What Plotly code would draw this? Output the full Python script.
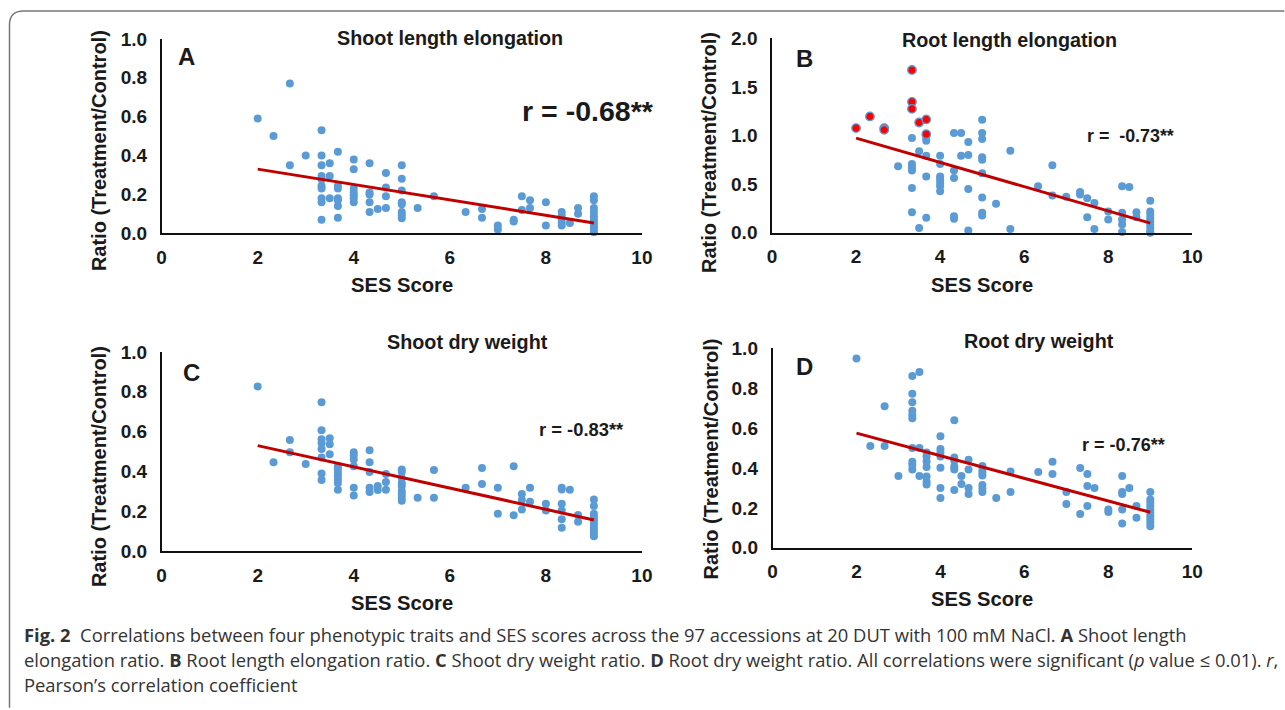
import plotly.graph_objects as go

# Empirical mapping between figure pixels and photographed pixels
# (photo = S * figure + O); positions below are given in photo pixels.
SX, OX = 0.987, 5.5
SY, OY = 0.974, 9.0
W, H = 1297, 721
FS = 1.02  # font compensation for the photo scaling

# ---------------- data ----------------
# Panel A: Shoot length elongation
ses_levels_A = [2.0, 2.33, 2.67, 3.0, 3.33, 3.5, 3.67, 4.0, 4.33, 4.5, 4.67, 5.0, 5.33, 5.67,
                6.33, 6.67, 7.0, 7.33, 7.5, 7.67, 8.0, 8.33, 8.5, 8.67, 9.0]
ratio_groups_A = [
    [0.59], [0.50], [0.77, 0.35], [0.40],
    [0.53, 0.40, 0.35, 0.295, 0.278, 0.244, 0.23, 0.18, 0.16, 0.07],
    [0.36, 0.295, 0.18],
    [0.42, 0.244, 0.23, 0.18, 0.17, 0.14, 0.08],
    [0.38, 0.33, 0.23, 0.21, 0.196, 0.18, 0.16],
    [0.36, 0.21, 0.20, 0.16, 0.11],
    [0.125],
    [0.31, 0.235, 0.19, 0.13],
    [0.35, 0.28, 0.22, 0.16, 0.15, 0.11, 0.094, 0.077],
    [0.13], [0.19], [0.11], [0.125, 0.08], [0.04, 0.02], [0.07, 0.06], [0.19, 0.12],
    [0.17, 0.13], [0.16, 0.04],
    [0.11, 0.09, 0.073, 0.056, 0.04], [0.053], [0.13, 0.10],
    [0.19, 0.17, 0.13, 0.11, 0.087, 0.07, 0.053, 0.036, 0.019, 0.005],
]

# Panel B: Root length elongation (red = highlighted accessions)
ses_B_red = [2.0, 2.33, 2.67, 2.67, 3.33, 3.33, 3.33, 3.5, 3.67, 3.67]
ratio_B_red = [1.077, 1.197, 1.077, 1.06, 1.675, 1.347, 1.275, 1.135, 1.166, 1.015]
ses_levels_B = [3.0, 3.33, 3.5, 3.67, 4.0, 4.33, 4.5, 4.67, 5.0, 5.33, 5.67, 6.33, 6.67,
                7.0, 7.33, 7.5, 7.67, 8.0, 8.33, 8.5, 8.67, 9.0]
ratio_groups_B = [
    [0.684],
    [0.974, 0.708, 0.673, 0.64, 0.46, 0.212],
    [0.84, 0.05],
    [0.974, 0.947, 0.793, 0.58, 0.154],
    [0.793, 0.708, 0.58, 0.547, 0.513, 0.479, 0.427],
    [1.026, 0.64, 0.564, 0.17, 0.144],
    [1.026, 0.793],
    [0.933, 0.80, 0.45, 0.024],
    [1.162, 1.026, 0.964, 0.776, 0.752, 0.612, 0.362, 0.205, 0.178],
    [0.30], [0.844, 0.04], [0.479], [0.694, 0.383], [0.37], [0.42, 0.393],
    [0.355, 0.16], [0.307, 0.04], [0.218, 0.137],
    [0.48, 0.205, 0.137, 0.085, 0.007], [0.47], [0.212, 0.16],
    [0.33, 0.218, 0.185, 0.15, 0.116, 0.082, 0.048, 0.014, 0.0],
]

# Panel C: Shoot dry weight
ses_levels_C = [2.0, 2.33, 2.67, 3.0, 3.33, 3.5, 3.67, 4.0, 4.33, 4.5, 4.67, 5.0, 5.33, 5.67,
                6.33, 6.67, 7.0, 7.33, 7.5, 7.67, 8.0, 8.33, 8.5, 8.67, 9.0]
ratio_groups_C = [
    [0.827], [0.447], [0.558, 0.497], [0.438],
    [0.747, 0.607, 0.562, 0.543, 0.513, 0.47, 0.39, 0.357],
    [0.567, 0.537, 0.487],
    [0.427, 0.41, 0.393, 0.377, 0.36, 0.343, 0.308],
    [0.497, 0.48, 0.46, 0.427, 0.318, 0.28],
    [0.507, 0.447, 0.397, 0.318, 0.297],
    [0.327, 0.307],
    [0.388, 0.348, 0.308],
    [0.41, 0.397, 0.368, 0.343, 0.327, 0.302, 0.285, 0.268, 0.253],
    [0.268], [0.408, 0.268], [0.318], [0.418, 0.338], [0.318, 0.188], [0.427, 0.18],
    [0.287, 0.257, 0.21], [0.318, 0.248], [0.238, 0.205],
    [0.318, 0.31, 0.238, 0.205, 0.16, 0.118], [0.308], [0.182, 0.148],
    [0.26, 0.227, 0.188, 0.172, 0.155, 0.138, 0.122, 0.105, 0.088, 0.075],
]

# Panel D: Root dry weight
ses_levels_D = [2.0, 2.33, 2.67, 3.0, 3.33, 3.5, 3.67, 4.0, 4.33, 4.5, 4.67, 5.0, 5.33, 5.67,
                6.33, 6.67, 7.0, 7.33, 7.5, 7.67, 8.0, 8.33, 8.5, 8.67, 9.0]
ratio_groups_D = [
    [0.95], [0.51], [0.71, 0.51], [0.36],
    [0.862, 0.772, 0.73, 0.687, 0.667, 0.65, 0.5, 0.432, 0.415, 0.392],
    [0.882, 0.5, 0.36],
    [0.478, 0.458, 0.433, 0.405, 0.358, 0.333, 0.317],
    [0.56, 0.495, 0.478, 0.458, 0.402, 0.30, 0.25],
    [0.64, 0.453, 0.437, 0.408, 0.392, 0.29],
    [0.36, 0.32],
    [0.442, 0.392, 0.30, 0.27],
    [0.41, 0.39, 0.375, 0.363, 0.315, 0.297, 0.28],
    [0.25], [0.383, 0.28], [0.38], [0.432, 0.37], [0.28, 0.22], [0.40, 0.17],
    [0.37, 0.31, 0.21], [0.30], [0.192, 0.18],
    [0.36, 0.28, 0.27, 0.192, 0.122], [0.30], [0.21, 0.15],
    [0.28, 0.242, 0.225, 0.208, 0.192, 0.175, 0.158, 0.142, 0.125, 0.108],
]

# Linear trend lines (end points)
trend_x = [2, 9]
trend_A = [0.33, 0.053]
trend_B = [0.974, 0.10]
trend_C = [0.53, 0.157]
trend_D = [0.575, 0.178]

panel_titles = ["Shoot length elongation", "Root length elongation",
                "Shoot dry weight", "Root dry weight"]
panel_letters = ["A", "B", "C", "D"]
r_labels = ["r = -0.68**", "r =\u00a0\u00a0-0.73**", "r = -0.83**", "r = -0.76**"]
x_title = "SES Score"
y_title = "Ratio (Treatment/Control)"
caption_lines = [
    "<b>Fig. 2</b>\u00a0\u00a0Correlations between four phenotypic traits and SES scores across the 97 accessions at 20 DUT with 100 mM NaCl. <b>A</b> Shoot length",
    "elongation ratio. <b>B</b> Root length elongation ratio. <b>C</b> Shoot dry weight ratio. <b>D</b> Root dry weight ratio. All correlations were significant (<i>p</i> value \u2264 0.01). <i>r</i>,",
    "Pearson\u2019s correlation coefficient",
]


def expand(levels, groups):
    xs, ys = [], []
    for lv, g in zip(levels, groups):
        for v in g:
            xs.append(lv)
            ys.append(v)
    return xs, ys


# ---------------- styling ----------------
BLUE = "#5B9BD5"
DARKRED = "#C00000"
FONT = "Liberation Sans, Arial, sans-serif"
TXT = "#1a1a1a"


def fx(px):
    return ((px - OX) / SX) / W


def fy(py):
    return 1 - ((py - OY) / SY) / H


# pixel boxes (photo coords): (x of 0, x of 10, y of 0, y of max, ymax, dtick)
boxes = [
    (162, 642, 233, 38, 1.0, 0.2),
    (772, 1192, 232.5, 37.5, 2.0, 0.5),
    (162, 642, 552, 352, 1.0, 0.2),
    (772.5, 1192, 548.5, 348.5, 1.0, 0.2),
]

fig = go.Figure()

data_sets = [
    expand(ses_levels_A, ratio_groups_A),
    expand(ses_levels_B, ratio_groups_B),
    expand(ses_levels_C, ratio_groups_C),
    expand(ses_levels_D, ratio_groups_D),
]
trends = [trend_A, trend_B, trend_C, trend_D]

TICK = 19
layout_axes = {}
for i, (box, (xs, ys), tr) in enumerate(zip(boxes, data_sets, trends)):
    n = "" if i == 0 else str(i + 1)
    xa, ya = "x" + n, "y" + n
    fig.add_trace(go.Scatter(x=xs, y=ys, mode="markers", xaxis=xa, yaxis=ya,
                             marker=dict(color=BLUE, size=8, line=dict(width=0)),
                             cliponaxis=False, showlegend=False, hoverinfo="x+y"))
    if i == 1:
        fig.add_trace(go.Scatter(x=ses_B_red, y=ratio_B_red, mode="markers", xaxis=xa, yaxis=ya,
                                 marker=dict(color="#FF0000", size=8.5,
                                             line=dict(width=1.3, color=BLUE)),
                                 cliponaxis=False, showlegend=False))
    fig.add_trace(go.Scatter(x=trend_x, y=tr, mode="lines", xaxis=xa, yaxis=ya,
                             line=dict(color=DARKRED, width=3), cliponaxis=False,
                             showlegend=False, hoverinfo="skip"))
    x0, x1, yb, yt, ymax, dt = box
    layout_axes["xaxis" + n] = dict(
        domain=[fx(x0), fx(x1)], range=[0, 10], dtick=2, tick0=0, anchor=ya,
        showline=True, linecolor="#111", linewidth=1.5, showgrid=False, zeroline=False,
        ticks="", ticklabelstandoff=6,
        tickfont=dict(family=FONT, size=TICK, color=TXT, weight="bold"), fixedrange=True)
    layout_axes["yaxis" + n] = dict(
        domain=[fy(yb), fy(yt)], range=[0, ymax], dtick=dt, tick0=0, anchor=xa,
        tickformat=".1f", showline=True, linecolor="#111", linewidth=1.5,
        showgrid=False, zeroline=False, ticks="", ticklabelstandoff=9,
        tickfont=dict(family=FONT, size=TICK, color=TXT, weight="bold"), fixedrange=True)

fig.update_layout(**layout_axes)

ann = []


def add_text(text, x, y, size, bold=True, angle=0, xanchor="center", color=TXT, family=FONT):
    ann.append(dict(text=text, x=fx(x), y=fy(y), xref="paper", yref="paper",
                    showarrow=False, xanchor=xanchor, yanchor="middle", textangle=angle,
                    font=dict(family=family, size=size * FS, color=color,
                              weight="bold" if bold else "normal")))


# text positions (photo pixel centres)
title_pos = [(450, 37), (1009, 39), (468, 342), (1039, 341)]
letter_pos = [(187, 56), (804, 58), (192, 373), (804, 367)]
r_pos = [(588, 110, 28), (1130, 135, 17.5), (582, 430, 18), (1123, 445, 17.7)]
xt_pos = [(402, 285), (982, 285), (402, 604), (982, 600)]
yt_pos = [(99, 150), (708.5, 152), (99, 467), (711, 459)]

for i in range(4):
    add_text(panel_titles[i], *title_pos[i], 19.4)
    add_text(panel_letters[i], *letter_pos[i], 23.5)
    add_text(r_labels[i], r_pos[i][0], r_pos[i][1], r_pos[i][2])
    add_text(x_title, *xt_pos[i], 19.8)
    add_text(y_title, *yt_pos[i], 19.6, angle=-90)

# caption
cap_y = [636, 661, 686]
for line, cy in zip(caption_lines, cap_y):
    add_text(line, 22, cy, 18.0, bold=False, xanchor="left", color="#333333",
             family="Open Sans, Noto Sans, sans-serif")

# rounded frame (top + left edge)
r = 14
path = (f"M {fx(10)},{fy(709)} L {fx(10)},{fy(10 + r)} "
        f"Q {fx(10)},{fy(10)} {fx(10 + r)},{fy(10)} L {fx(1284)},{fy(10)}")
fig.update_layout(
    shapes=[dict(type="path", path=path, xref="paper", yref="paper",
                 line=dict(color="#777777", width=1.5))],
    annotations=ann,
    width=W, height=H, margin=dict(l=0, r=0, t=0, b=0),
    paper_bgcolor="white", plot_bgcolor="white", showlegend=False,
)

fig.write_html("out.html")
